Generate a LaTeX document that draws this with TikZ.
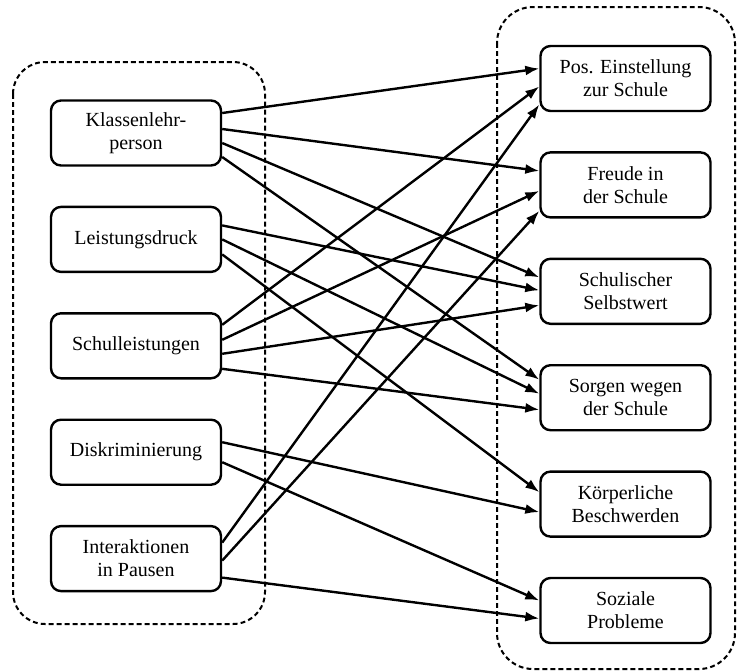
\documentclass[tikz,border=0pt]{standalone}
\usepackage{fontspec}
\setmainfont{Liberation Serif}
\usepackage{tikz}
\usetikzlibrary{positioning}
\usetikzlibrary{arrows.meta}
\tikzset{factor/.style={draw,line width=1.2pt,rounded corners=5pt,align=center,
    minimum width=85pt,minimum height=32.5pt,inner sep=2pt,
    font=\fontsize{10}{11.5}\selectfont}}
\tikzset{group/.style={line width=1pt,dash pattern=on 2.4pt off 1.6pt}}
\tikzset{effect/.style={line width=1.2pt,-{Latex[length=7pt,width=5pt]}}}

\begin{document}
\begin{tikzpicture}[x=0.5pt,y=-0.5pt]
            \useasboundingbox (0,0) rectangle (739,671);
            \draw[group,rounded corners=16pt] (13,62) rectangle (265,624);
            \draw[group,rounded corners=18pt] (497,7) rectangle (735,669);

            \node (kl) [factor] at (136,133)     {Klassenlehr-\\person};
            \node (ld) [factor,below=19.5pt of kl] {Leistungsdruck};
            \node (sl) [factor,below=19.5pt of ld] {Schulleistungen};
            \node (dk) [factor,below=19.5pt of sl] {Diskriminierung};
            \node (ia) [factor,below=19.5pt of dk] {Interaktionen\\in Pausen};

            \node (pos) [factor] at (625.5,78.5)   {Pos. Einstellung\\zur Schule};
            \node (fre) [factor,below=19.5pt of pos] {Freude in\\der Schule};
            \node (sch) [factor,below=19.5pt of fre] {Schulischer\\Selbstwert};
            \node (sor) [factor,below=19.5pt of sch] {Sorgen wegen\\der Schule};
            \node (koe) [factor,below=19.5pt of sor] {Körperliche\\Beschwerden};
            \node (soz) [factor,below=19.5pt of koe] {Soziale\\Probleme};

            \draw[effect] ([yshift=10pt]kl.east)   -- ([yshift=5pt]pos.west);
            \draw[effect] ([yshift=2pt]kl.east)    -- ([yshift=7pt]fre.west);
            \draw[effect] ([yshift=-5pt]kl.east)   -- ([yshift=7pt]sch.west);
            \draw[effect] ([yshift=-12pt]kl.east)  -- ([yshift=9pt]sor.west);
            \draw[effect] ([yshift=7pt]ld.east)    -- ([yshift=0.5pt]sch.west);
            \draw[effect] (ld.east)                -- ([yshift=2pt]sor.west);
            \draw[effect] ([yshift=-7.5pt]ld.east) -- ([yshift=6pt]koe.west);
            \draw[effect] ([yshift=10.5pt]sl.east) -- ([yshift=-4pt]pos.west);
            \draw[effect] ([yshift=3pt]sl.east)    -- ([yshift=-3pt]fre.west);
            \draw[effect] ([yshift=-4pt]sl.east)   -- ([yshift=-7pt]sch.west);
            \draw[effect] ([yshift=-11.5pt]sl.east) -- ([yshift=-6pt]sor.west);
            \draw[effect] ([yshift=5pt]dk.east)    -- ([yshift=-4pt]koe.west);
            \draw[effect] ([yshift=-5pt]dk.east)   -- ([yshift=5pt]soz.west);
            \draw[effect] ([yshift=8pt]ia.east)    -- ([yshift=-13pt]pos.west);
            \draw[effect] ([yshift=-1pt]ia.east)   -- ([yshift=-13pt]fre.west);
            \draw[effect] ([yshift=-9.5pt]ia.east) -- ([yshift=-4pt]soz.west);
        \end{tikzpicture}
\end{document}
